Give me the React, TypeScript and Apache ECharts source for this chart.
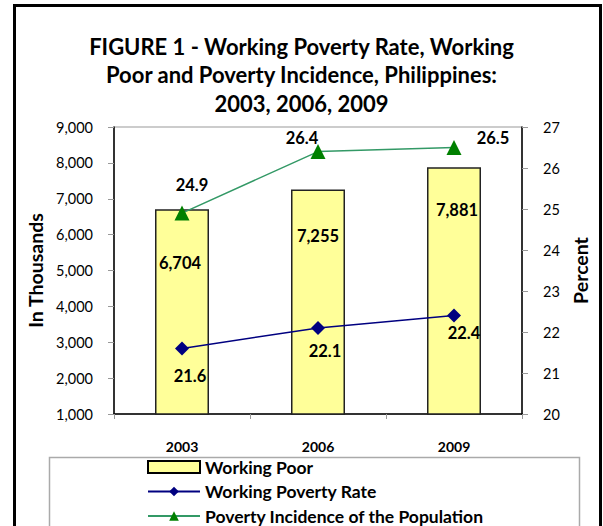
import React, { useEffect, useRef } from "react";
import * as echarts from "echarts";

const years = ["2003", "2006", "2009"];
const workingPoor = [6704, 7255, 7881];
const workingPovertyRate = [21.6, 22.1, 22.4];
const povertyIncidence = [24.9, 26.4, 26.5];

const leftTicks = { min: 1000, max: 9000, interval: 1000 };
const rightTicks = { min: 20, max: 27, interval: 1 };

// label placement (style only)
const barLabelOffsets = [[-2, 45], [0, 38], [3, 34]];
const rateLabelOffsets = [[8, 28], [7, 23], [10, 17]];
const incidenceLabelOffsets = [[10, -28], [-16, -14], [39, -10]];

const FONT = "Lato, 'Open Sans', sans-serif";

export default function App() {
  const ref = useRef<HTMLDivElement>(null);
  useEffect(() => {
    if (!ref.current) return;
    const chart = echarts.init(ref.current, undefined, { renderer: "svg" });
    const fmt = (v: number) => v.toLocaleString("en-US");
    const dataLabel = {
      show: true,
      fontFamily: FONT,
      fontSize: 16.5,
      fontWeight: "bold",
      color: "#000",
    };
    chart.setOption({
      animation: false,
      backgroundColor: "#fff",
      textStyle: { fontFamily: FONT },
      title: {
        text: "FIGURE 1 - Working Poverty Rate, Working\nPoor and Poverty Incidence, Philippines:\n2003, 2006, 2009",
        left: "center",
        top: 27,
        textStyle: {
          fontFamily: FONT,
          fontSize: 22,
          fontWeight: "bold",
          color: "#000",
          lineHeight: 28.5,
          align: "center",
        },
      },
      graphic: [
        {
          type: "rect",
          shape: { x: 14.5, y: 5.5, width: 586, height: 600 },
          style: { fill: "none", stroke: "#000", lineWidth: 3 },
          silent: true,
        },
        {
          type: "rect",
          shape: { x: 49.5, y: 457.5, width: 530, height: 120 },
          style: { fill: "none", stroke: "#aaa", lineWidth: 1.5 },
          silent: true,
        },
      ],
      grid: {
        left: 114,
        right: 81,
        top: 127,
        bottom: 112,
        show: true,
        borderColor: "#999",
        borderWidth: 1,
        backgroundColor: "transparent",
      },
      legend: {
        orient: "vertical",
        left: 147,
        top: 458,
        padding: 0,
        itemWidth: 52,
        itemHeight: 12,
        itemGap: 6.5,
        textStyle: {
          fontFamily: FONT,
          fontSize: 17.5,
          fontWeight: "bold",
          color: "#000",
        },
        data: [
          {
            name: "Working Poor",
            icon: "rect",
            itemStyle: { color: "#FFFF99", borderColor: "#000", borderWidth: 2 },
          },
          { name: "Working Poverty Rate" },
          { name: "Poverty Incidence of the Population" },
        ],
      },
      xAxis: {
        type: "category",
        data: years,
        axisLine: { lineStyle: { color: "#000", width: 1.5 } },
        axisTick: { show: true, length: 5, lineStyle: { color: "#999" } },
        axisLabel: {
          margin: 25,
          fontFamily: FONT,
          fontSize: 14,
          fontWeight: "bold",
          color: "#000",
        },
        splitLine: { show: false },
      },
      yAxis: [
        {
          type: "value",
          ...leftTicks,
          position: "left",
          name: "In Thousands",
          nameLocation: "middle",
          nameGap: 67,
          nameTextStyle: {
            fontFamily: FONT,
            fontSize: 19.5,
            fontWeight: "bold",
            color: "#000",
          },
          axisLine: { show: true, lineStyle: { color: "#000", width: 1.5 } },
          axisTick: { show: true, length: 6, lineStyle: { color: "#999" } },
          axisLabel: {
            margin: 21,
            fontFamily: FONT,
            fontSize: 14.5,
            color: "#000",
            formatter: (v: number) => fmt(v),
          },
          splitLine: { show: false },
        },
        {
          type: "value",
          ...rightTicks,
          position: "right",
          name: "Percent",
          nameLocation: "middle",
          nameGap: 44,
          nameRotate: 90,
          nameTextStyle: {
            fontFamily: FONT,
            fontSize: 19.5,
            fontWeight: "bold",
            color: "#000",
          },
          axisLine: { show: true, lineStyle: { color: "#000", width: 1.5 } },
          axisTick: { show: true, length: 6, lineStyle: { color: "#999" } },
          axisLabel: {
            margin: 21,
            fontFamily: FONT,
            fontSize: 14.5,
            color: "#000",
          },
          splitLine: { show: false },
        },
      ],
      series: [
        {
          name: "Working Poor",
          type: "bar",
          yAxisIndex: 0,
          barWidth: 54,
          itemStyle: { color: "#FFFF99", borderColor: "#222", borderWidth: 1.5 },
          data: workingPoor.map((v, i) => ({
            value: v,
            label: { offset: barLabelOffsets[i] },
          })),
          label: {
            ...dataLabel,
            position: "insideTop",
            distance: 0,
            formatter: (p: any) => fmt(p.value),
          },
          z: 1,
        },
        {
          name: "Working Poverty Rate",
          type: "line",
          yAxisIndex: 1,
          symbol: "diamond",
          symbolSize: 14,
          lineStyle: { color: "#000080", width: 1.5 },
          itemStyle: { color: "#000080" },
          data: workingPovertyRate.map((v, i) => ({
            value: v,
            label: { offset: rateLabelOffsets[i] },
          })),
          label: { ...dataLabel, position: "inside" },
          z: 3,
        },
        {
          name: "Poverty Incidence of the Population",
          type: "line",
          yAxisIndex: 1,
          symbol: "triangle",
          symbolSize: 15,
          lineStyle: { color: "#339966", width: 1.5 },
          itemStyle: { color: "#008000" },
          data: povertyIncidence.map((v, i) => ({
            value: v,
            label: { offset: incidenceLabelOffsets[i] },
          })),
          label: { ...dataLabel, position: "inside" },
          z: 3,
        },
      ],
    });
    return () => chart.dispose();
  }, []);
  return (
    <div
      ref={ref}
      style={{ position: "fixed", left: 0, top: 0, width: 603, height: 526 }}
    />
  );
}
